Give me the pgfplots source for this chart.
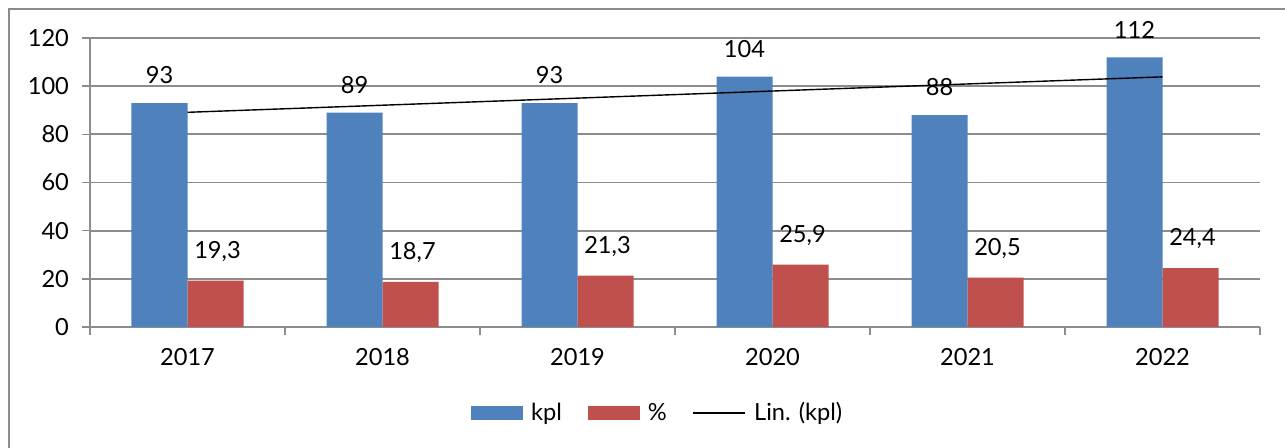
\documentclass[border=0pt]{standalone}
\usepackage{pgfplots}
\pgfplotsset{compat=1.18}
\usepackage{fontspec}
\setmainfont{Lato}
\definecolor{kblue}{HTML}{4F81BD}
\definecolor{kred}{HTML}{C0504D}
\definecolor{gridgray}{HTML}{8C8C8C}
\begin{document}
\begin{tikzpicture}
\useasboundingbox (0,0) rectangle (642.5pt,224pt);
\begin{axis}[
  at={(45pt,60.5pt)}, anchor=south west,
  scale only axis, width=585pt, height=144.5pt,
  xmin=-0.5, xmax=5.5, ymin=0, ymax=120,
  font=\fontsize{11.8}{14}\selectfont,
  /pgf/number format/assume math mode=true,
  axis x line*=bottom, axis y line*=left,
  axis line style={gridgray, line width=0.8pt},
  ytick={0,20,...,120},
  ymajorgrids, major grid style={gridgray, line width=0.9pt},
  xtick={0,...,5},
  xticklabels={2017,2018,2019,2020,2021,2022},
  minor xtick={-0.5,0.5,...,5.5},
  tick align=outside,
  major tick length=4pt, minor tick length=4pt,
  every major x tick/.append style={draw=none},
  tick style={gridgray, line width=0.8pt},
  xticklabel style={yshift=-3pt},
  yticklabel style={xshift=-3pt},
  legend columns=3,
  legend style={at={(0.486,-0.2976)}, anchor=center, draw=none, fill=none,
    font=\fontsize{11.8}{14}\selectfont,
    /tikz/every odd column/.append style={column sep=2pt},
    /tikz/every even column/.append style={column sep=11pt}},
  nodes near coords style={anchor=south, yshift=6pt, font=\fontsize{11.8}{14}\selectfont},
]
\addplot[ybar, bar width=28pt, bar shift=-14pt, fill=kblue, draw=none,
  nodes near coords={\pgfmathprintnumber[fixed,precision=0]{\pgfplotspointmeta}},
  every node near coord/.append style={xshift=-14pt},
  legend image code/.code={\fill[kblue] (0pt,-3.5pt) rectangle (26pt,3.5pt);}]
  coordinates {(0,93) (1,89) (2,93) (3,104) (4,88) (5,112)};
\addlegendentry{kpl}
\addplot[ybar, bar width=28pt, bar shift=14pt, fill=kred, draw=none,
  nodes near coords={\pgfmathprintnumber[fixed,fixed zerofill,precision=1,use comma]{\pgfplotspointmeta}},
  every node near coord/.append style={xshift=15pt},
  legend image code/.code={\fill[kred] (0pt,-3.5pt) rectangle (26pt,3.5pt);}]
  coordinates {(0,19.3) (1,18.7) (2,21.3) (3,25.9) (4,20.5) (5,24.4)};
\addlegendentry{\%}
\addplot[black, line width=0.7pt, mark=none,
  legend image code/.code={\draw[black, line width=0.7pt] (0pt,0pt) -- (26pt,0pt);}]
  coordinates {(0,89.14) (5,103.86)};
\addlegendentry{Lin. (kpl)}
\end{axis}
\draw[gridgray, line width=0.8pt] (4.5pt,-10pt) -- (4.5pt,219.5pt) -- (660pt,219.5pt);
\end{tikzpicture}
\end{document}
